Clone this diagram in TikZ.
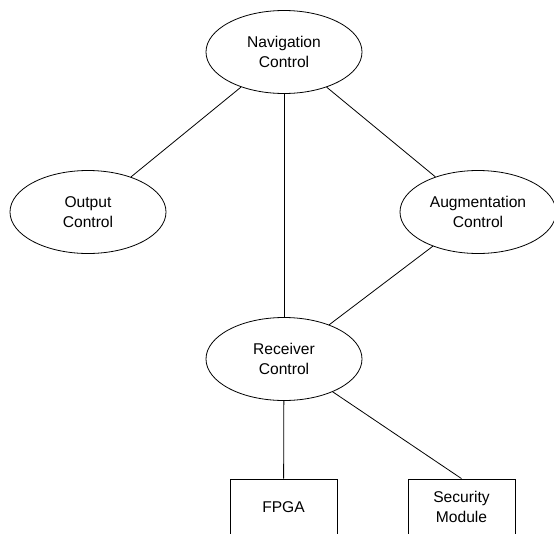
\documentclass[tikz,border=0pt]{standalone}
\usepackage{fontspec}
\setmainfont{Liberation Sans}
\usetikzlibrary{shapes.geometric}

\tikzset{
  ctrl/.style={draw, ellipse, minimum width=156pt, minimum height=83pt,
    inner sep=0pt, align=center},
  unit/.style={draw, rectangle, minimum width=107pt, minimum height=56pt,
    inner sep=0pt, align=center},
}

\begin{document}
\begin{tikzpicture}[x=1pt, y=-1pt, line width=0.8pt,
    font=\fontsize{15.6}{20}\selectfont]
  \useasboundingbox (0, 0) rectangle (554, 533);
  \clip (0, 0) rectangle (554, 533);

  \coordinate (N) at (284, 52);
  \coordinate (O) at (88, 212);
  \coordinate (A) at (478, 212);
  \coordinate (R) at (284, 359);
  \coordinate (F) at (283.5, 507);
  \coordinate (S) at (461.5, 507);

  \node[ctrl] (nav) at (N) {Navigation\\Control};
  \node[ctrl] (out) at (O) {Output\\Control};
  \node[ctrl] (aug) at (A) {Augmentation\\Control};
  \node[ctrl] (rcv) at (R) {Receiver\\Control};
  \node[unit] (fpga) at (F) {FPGA};
  \node[unit] (sec)  at (S) {Security\\Module};

  \draw (nav) -- (out);
  \draw (nav) -- (rcv);
  \draw (nav) -- (aug);
  \draw (aug) -- (rcv);
  \draw (rcv) -- (fpga);
  \draw (rcv) -- (sec.north);
\end{tikzpicture}
\end{document}
